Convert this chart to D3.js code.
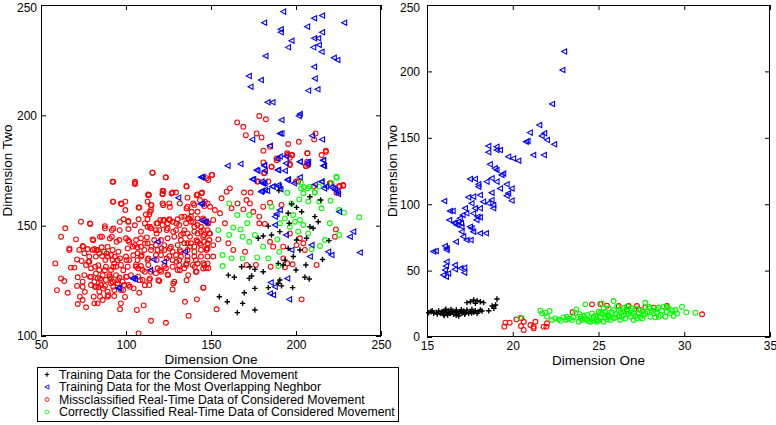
<!DOCTYPE html>
<html><head><meta charset="utf-8">
<script src="https://cdn.jsdelivr.net/npm/d3@7"></script>
<style>
body{margin:0;background:#fff;}
svg{display:block;font-family:"Liberation Sans",Arial,Helvetica,sans-serif;}
</style></head><body>
<svg id="chart" width="776" height="425"></svg>
<script>
// ---------- DATA ----------
const legendLabels = [
  "Training Data for the Considered Movement",
  "Training Data for the Most Overlapping Neghbor",
  "Missclassified Real-Time Data of Considered Movement",
  "Correctly Classified Real-Time Data of Considered Movement"
];
const xLabel = "Dimension One";
const yLabel = "Dimension Two";
const leftXTicks = [50,100,150,200,250];
const leftYTicks = [100,150,200,250];
const rightXTicks = [15,20,25,30,35];
const rightYTicks = [0,50,100,150,200,250];

const leftRed = [
[115.7,174.0],[123.5,171.9],[92.1,169.9],[105.3,169.9],[105.3,168.9],[135.5,168.0],[113.1,164.2],[121.5,165.9],[121.5,164.2],[127.4,165.0],[129.4,165.0],
[92.3,160.9],[97.0,160.1],[99.6,160.9],[112.7,160.9],[114.7,159.4],[121.5,160.1],[125.5,160.1],[136.2,162.7],[142.1,164.2],[144.7,165.0],
[99.6,157.1],[107.4,158.2],[114.7,157.1],[111.7,155.1],[113.7,155.1],[114.1,156.3],[98.6,152.9],[101.4,152.1],[107.4,152.9],[112.7,152.9],
[120.2,152.6],[122.5,152.6],[125.5,152.9],[130.4,152.9],[134.3,154.1],[138.2,154.1],[142.1,156.3],[146.0,158.9],[148.0,160.1],[140.2,159.4],[136.2,158.6],
[73.5,151.8],[79.0,150.8],[64.3,148.8],[61.8,145.0],[87.6,148.8],[91.7,148.0],[96.3,148.0],[101.4,148.5],[108.8,147.3],[112.7,149.5],[114.7,148.8],
[117.6,148.0],[119.6,148.0],[124.5,148.8],[127.4,151.8],[131.3,150.3],[135.3,151.1],[138.2,151.8],[142.1,150.3],[148.0,151.1],
[70.6,143.8],[74.5,140.8],[80.4,143.8],[85.9,145.0],[91.7,145.0],[96.1,143.5],[100.0,144.3],[101.9,142.7],[105.9,143.5],[108.8,144.3],[112.3,144.7],
[116.6,143.5],[120.6,143.5],[124.5,144.3],[128.4,145.0],[132.3,145.8],[136.2,146.5],[140.2,147.3],[144.1,147.3],[148.0,148.0],
[66.7,139.7],[66.7,139.0],[72.5,139.0],[77.4,139.4],[81.4,139.4],[85.7,140.2],[89.2,140.5],[95.5,138.2],[101.0,139.7],[103.9,140.5],[106.8,140.2],
[108.8,140.5],[112.7,142.0],[117.6,141.2],[122.5,141.2],[126.4,140.5],[130.4,141.2],[134.3,142.0],[138.2,142.0],[142.1,142.7],[146.0,142.7],[149.0,143.5],
[71.2,134.7],[73.9,134.0],[78.4,133.7],[82.3,136.0],[85.9,136.2],[87.8,134.4],[92.1,134.4],[96.5,135.2],[100.0,136.0],[101.9,134.4],[106.8,134.4],
[108.8,136.0],[112.7,134.4],[117.6,136.7],[120.6,136.7],[125.5,136.2],[129.4,136.7],[132.3,138.2],[136.2,139.0],[140.2,138.2],[144.1,139.0],[148.0,139.7],
[58.4,132.9],[67.6,131.0],[69.6,131.0],[75.5,127.6],[79.4,130.7],[81.9,131.4],[84.3,129.9],[88.2,131.4],[91.2,129.9],[94.1,131.4],[97.0,132.2],
[101.0,131.4],[105.9,132.2],[108.8,131.7],[113.1,132.2],[118.6,130.7],[122.5,131.7],[127.4,131.4],[131.3,132.2],[135.3,132.2],[139.2,132.2],[142.1,132.9],
[146.0,132.2],[148.0,132.9],[61.8,126.1],[63.7,124.9],[71.6,126.6],[74.5,124.6],[79.4,126.9],[83.3,126.1],[86.3,127.6],[90.2,127.6],[94.1,127.6],
[96.1,126.4],[100.0,126.9],[102.9,127.6],[107.2,126.9],[109.8,125.4],[113.7,125.4],[119.6,124.9],[124.5,127.9],[128.4,124.6],[134.3,130.7],[141.1,129.1],
[147.0,130.7],[59.4,120.8],[65.7,119.6],[71.2,122.7],[74.5,122.3],[79.4,123.1],[83.7,122.3],[87.6,122.7],[91.2,123.9],[97.0,120.8],[101.4,123.1],
[104.5,121.6],[107.8,119.6],[113.7,123.1],[127.4,121.1],[145.5,121.9],[72.9,117.8],[74.5,116.3],[81.0,117.8],[84.7,117.8],[93.1,118.1],[97.0,114.8],
[71.6,114.5],[76.5,113.0],[83.3,114.8],[96.5,112.1],[106.4,111.8],[110.4,113.9],[134.7,115.5],[141.7,116.6],[136.8,109.2],[114.7,106.9],[123.5,106.0],[107.4,101.2],
[83.3,139.0],[84.3,137.5],[87.2,138.2],[89.2,136.0],[91.2,136.7],[92.1,139.0],[93.1,132.9],[95.1,134.4],[82.3,128.4],[85.3,125.4],[88.2,125.4],
[91.2,126.1],[92.1,124.6],[85.3,123.1],[81.4,124.6],[82.3,122.3],[84.3,120.1],[89.2,120.1],[93.1,120.8],[95.1,123.9],[98.0,124.6],[99.0,123.1],
[89.2,117.8],[86.3,116.3],[81.4,114.8],[80.4,139.0],[78.4,136.0],[76.5,132.2],[75.5,137.5],[106.8,137.5],[110.8,139.0],[114.7,139.0],[118.6,139.0],
[122.5,139.0],[127.4,138.2],[132.3,136.0],[136.2,136.0],[140.2,136.0],[144.1,136.0],[148.0,136.0],[136.2,142.0],[140.2,140.5],[144.1,141.2],[148.0,142.0],
[132.3,143.5],[134.3,148.0],[140.2,149.5],[144.1,149.5],[146.0,152.6],[142.1,153.3],[137.2,153.3],[142.1,146.5],[146.0,145.8],[149.0,146.5],
[118.6,151.1],[121.5,150.3],[124.5,151.1],[129.4,148.0],[105.9,131.4],[109.8,129.9],[114.7,129.1],[117.6,128.4],[120.6,129.1],[123.5,130.7],
[130.4,129.9],[131.3,134.4],[127.4,134.4],[136.2,134.4],[141.1,134.4],
[92.5,160.8],[97.4,159.8],[107.8,158.2],[113.1,163.8],[121.5,164.6],[126.8,164.6],[115.0,159.3],[121.9,159.3],[125.8,158.5],[131.7,160.1],[135.6,157.8],
[138.6,156.3],[141.5,163.8],[143.5,161.6],[139.5,160.1],[78.8,151.0],[87.6,149.8],[92.5,148.7],[96.4,151.7],[101.3,151.7],[105.2,150.2],[111.1,151.0],
[114.1,149.5],[118.0,151.0],[121.9,152.5],[125.8,152.5],[129.7,151.0],[132.7,154.0],[136.6,153.3],[139.5,151.7],[145.4,153.3],[118.0,146.5],[123.9,148.0],
[127.8,147.2],[133.7,146.5],[137.6,145.0],[141.5,143.4],[145.4,145.0],[80.7,143.4],[84.7,145.0],[90.5,144.2],[94.5,142.7],[101.3,143.4],[105.2,141.2],
[111.1,141.9],[115.0,140.4],[120.9,139.7],[125.8,139.7],[131.7,138.9],[137.6,140.4],[143.5,141.9],[147.4,139.7],[74.9,140.4],[82.7,138.9],[88.6,137.4],
[93.5,135.9],[100.3,134.4],[104.3,136.6],[109.2,136.6],[113.1,135.1],[118.0,134.4],[123.9,135.1],[129.7,133.6],[135.6,132.9],[140.5,131.3],[145.4,130.6],
[77.8,133.6],[83.7,132.1],[87.6,129.8],[92.5,131.3],[98.4,129.8],[107.2,130.6],[111.1,129.1],[120.0,129.8],[124.8,127.6],[131.7,129.8],[136.6,127.6],
[141.5,129.1],[78.8,126.8],[84.7,126.1],[90.5,126.8],[95.4,125.3],[100.3,126.8],[108.2,125.3],[114.1,126.1],[119.0,125.3],[81.7,122.3],[86.6,121.5],
[92.5,122.3],[98.4,120.8],[102.3,122.3],[111.1,123.0],[75.8,120.0],[89.6,118.5],[99.4,117.7],[127.8,123.8],[135.6,125.3],
[165.4,196.8],[169.0,194.8],[170.5,191.0],[176.8,191.8],[179.7,190.0],[178.4,199.7],[182.3,198.2],[211.5,191.8],[210.7,189.1],[184.7,185.8],[180.8,184.0],
[201.7,188.0],[195.4,187.0],[217.6,184.0],[215.1,182.0],[206.8,182.8],[194.8,182.8],[197.8,182.0],[196.4,180.8],[188.6,179.7],[206.6,179.0],[207.2,177.5],
[196.4,178.0],[185.6,176.7],[180.8,178.7],[206.0,177.0],[181.3,173.7],[150.7,173.0],[148.4,170.7],[115.5,174.0],[123.3,171.9],[92.5,169.9],[105.3,169.2],
[135.7,167.7],[113.5,163.9],[122.0,165.7],[177.8,170.0],[220.5,169.2],[225.8,167.7],[227.8,168.1],[200.0,170.0],[210.2,167.7],
[194.9,182.0],[197.4,182.0],[206.6,182.8],[217.6,183.5],[188.6,180.5],[196.4,177.5],[205.8,177.0],[185.6,176.7],[181.3,174.0],[177.2,170.0],[183.7,170.0],
[201.3,170.0],[219.9,169.2],[225.4,168.0],[227.8,168.4],[223.9,164.9],[169.4,165.0],[173.3,165.0],[170.9,161.6],[172.9,160.1],[165.6,160.1],[162.1,157.9],
[169.0,157.4],[174.9,156.3],[178.4,154.1],[184.7,160.4],[180.7,158.6],[191.5,159.4],[178.4,151.1],[181.7,150.8],[196.4,146.5],[202.3,144.3],[200.3,141.2],
[204.3,142.0],[192.5,140.5],[205.2,139.0],[192.5,135.2],[194.9,132.9],[198.0,132.5],[193.5,131.1],[185.1,131.4],[171.0,132.2],[176.4,132.2],[212.1,132.2],
[223.5,148.3],[222.9,145.0],[203.3,116.6],[145.5,121.9],[153.3,112.1],[156.2,162.4],[159.2,165.4],[161.1,166.9],[150.4,173.0],[147.4,171.5],[144.5,164.7],
[146.4,160.9],[149.4,158.6],[152.3,157.1],[155.3,155.6],[151.3,152.6],[148.4,151.1],[145.5,148.0],[149.4,146.5],[154.3,143.8],[151.3,141.2],[147.4,139.0],
[151.3,136.0],[145.5,133.0],[148.4,130.7],[158.2,151.1],[160.2,142.0],[163.1,139.0],[170.0,138.2],[184.7,142.7],[186.6,140.5]
];
const leftGreen = [
[223.9,171.7],[202.9,169.6],[213.5,167.7],[203.0,166.9],[207.0,166.9],[211.0,165.0],
[223.9,172.2],[220.9,169.2],[204.7,167.4],[208.2,167.7],[211.1,165.0],[204.3,164.7],[194.9,164.9],[201.9,161.9],[207.2,160.9],[213.7,160.9],[220.3,161.3],
[215.0,157.9],[225.4,157.1],[228.2,155.9],[237.2,153.8],[219.9,151.1],[225.4,145.8],[217.0,143.5],[214.1,140.8],[209.2,139.3],[202.3,152.6],[199.4,151.8],
[204.3,150.3],[196.4,149.5],[193.5,153.3],[190.5,151.1],[198.4,154.8],[201.3,147.3],[207.2,146.5],[197.4,160.1],[185.6,158.6],[165.5,154.8],[171.3,151.1],
[172.5,154.8],[167.4,148.3],[168.6,145.0],[163.1,149.2],[160.7,145.8],[172.5,142.7],[175.8,145.8],[180.7,140.5],[177.2,135.6],[183.7,135.2],[189.6,131.7],
[190.1,138.2],[189.0,143.8],[156.8,136.7],[156.8,131.7],[162.1,135.2],[168.6,135.2],[160.7,160.1],[154.3,148.0]
];
const leftBlue = [
[192.5,247.0],[181.3,242.0],[210.7,244.0],[215.4,245.2],[228.4,242.0],[191.1,239.0],[191.1,237.6],[206.6,240.2],[215.4,237.6],[210.7,234.9],[213.1,234.9],
[197.4,233.8],[213.5,231.9],[210.2,230.8],[195.4,230.8],[215.1,228.8],[182.1,226.9],[222.3,226.1],[224.4,225.1],[210.7,222.0],[172.3,217.8],[179.4,216.0],
[211.1,216.7],[173.3,213.0],[212.7,211.8],[207.2,211.2],[183.3,205.9],[186.2,205.9],[202.3,200.6],[201.7,199.7],[191.5,197.9],[190.5,191.8],[191.5,191.8],
[209.5,190.8],[215.4,189.1],[174.3,189.1],[184.7,186.2],[194.1,181.5],[189.2,180.3],[181.3,177.2],[202.3,179.0],[206.6,178.0],[216.0,179.5],[216.0,177.2],
[159.8,177.2],[167.4,178.0],[189.2,175.2],[177.4,174.9],[181.7,174.9],[144.5,171.9],[174.3,171.0],[195.4,171.0],[202.3,171.9],[180.5,169.2],[181.5,169.2],
[186.2,167.7],[190.1,167.7],[215.1,169.9],[211.1,168.7],[216.6,166.9],[180.1,165.8],[183.1,165.8],[222.0,166.9],[224.5,165.4],
[144.1,171.9],[130.8,162.7],[144.7,160.1],[147.0,151.8],[118.6,142.7],[116.2,134.7],[122.5,133.7],[114.3,129.9],[103.9,126.1],[105.3,125.7],[95.5,121.6],
[134.7,138.2],[95.9,121.9],[104.3,126.1],[143.9,159.8],[146.4,151.7],
[190.5,181.3],[194.1,178.3],[202.3,179.0],[207.2,179.0],[216.0,179.8],[216.6,177.0],[176.8,175.2],[181.3,177.5],[189.6,175.2],[193.5,174.9],[174.9,171.0],
[179.8,170.0],[180.7,169.2],[186.2,167.7],[189.6,168.4],[194.9,170.7],[198.8,169.2],[181.7,166.2],[179.4,165.4],[190.9,166.5],[215.0,170.0],[220.9,167.4],
[222.9,166.2],[224.8,164.4],[217.6,167.7],[145.1,172.2],[144.5,152.3],[190.5,157.1],[187.6,154.1],[188.6,155.3],[225.4,156.3],[187.6,150.3],[233.7,147.3],
[231.7,145.0],[237.6,137.8],[220.9,136.7],[219.0,138.2],[209.2,141.2],[194.1,145.8],[197.4,139.0],[208.2,136.0],[194.9,126.1],[185.2,124.2],[184.7,119.3],
[186.6,118.6],[196.0,116.6],[187.6,122.3]
];
const leftBlack = [
[189.9,165.9],[208.2,163.1],[195.4,155.6],[200.3,158.3],[203.3,156.3],[214.5,161.6],[211.1,154.1],[213.1,151.8],[208.2,149.5],[210.1,148.8],[183.7,149.8],
[180.7,145.3],[177.8,144.3],[185.6,145.8],[190.5,147.3],[195.4,139.7],[198.4,136.0],[202.3,139.0],[200.3,143.5],[206.2,144.3],[219.4,143.2],[215.6,134.7],
[205.8,132.2],[193.5,134.4],[192.5,132.2],[189.6,132.9],[200.0,129.9],[168.0,131.4],[172.9,131.4],[175.8,130.2],[180.7,129.1],[172.5,126.1],[173.9,127.2],
[160.2,127.6],[163.7,126.6],[190.5,125.4],[189.6,123.9],[191.5,122.7],[175.8,121.6],[183.7,121.9],[198.0,121.9],[205.2,126.6],[207.8,125.8],[169.6,119.6],
[154.9,117.8],[159.6,115.5],[168.6,114.8],[175.8,111.8],[165.5,110.6],[197.4,159.8],[196.0,151.1]
];

const rightBlue = [
[23.0,214.9],[22.9,201.1],[22.3,175.5],[21.55,159.6],[21.0,153.9],[21.84,153.4],[21.69,151.4],[22.0,148.3],[22.42,145.1],[20.77,147.1],[20.87,147.6],
[21.82,137.0],[21.2,137.0],[18.58,143.8],[18.58,139.1],[19.06,140.8],[19.26,140.8],[19.06,143.3],[19.74,135.8],[20.03,134.5],[20.33,132.8],[18.67,130.0],
[18.96,127.0],[19.06,125.8],[19.35,122.0],[19.45,123.2],[17.51,119.0],[17.8,119.0],[18.77,119.5],[18.48,117.0],[19.06,117.0],[19.65,115.0],[19.94,111.9],
[18.0,115.0],[18.0,113.2],[19.26,111.9],[18.77,108.7],[19.74,108.2],[18.09,106.9],[17.41,105.2],[17.7,105.7],[19.65,106.4],[18.77,103.2],[19.94,102.7],
[18.28,101.9],[18.58,100.7],[18.87,99.4],[18.87,96.9],[16.01,102.4],[17.6,100.7],[17.8,96.9],[18.09,96.9],[17.7,93.1],[17.95,90.6],[17.89,88.1],[18.09,90.1],
[17.22,96.9],[17.3,93.1],[17.08,91.9],[16.92,89.4],[16.83,86.8],[16.63,85.6],[17.02,83.1],[17.51,83.1],[17.6,81.8],[17.7,79.3],[17.02,79.3],[16.99,85.6],
[16.34,94.9],[16.5,94.9],[16.3,88.1],[16.59,86.1],[18.09,78.1],[18.44,78.1],[16.73,84.3],[17.12,75.6],[17.31,73.0],[17.55,73.0],[16.69,71.8],[16.15,65.5],
[16.05,68.5],[16.15,66.8],[15.37,64.3],[15.52,64.8],[16.15,56.7],[16.11,53.5],[16.05,50.5],[15.95,46.7],[16.11,45.4],[16.24,47.9],[16.63,54.2],[16.63,51.0],
[16.96,51.7],[17.18,52.2],[17.18,48.4]
];
const rightBlack = [
[15.1,18.3],[15.23,19.1],[15.39,17.8],[15.54,18.6],[15.68,19.6],[15.78,17.8],[15.87,19.1],[15.97,17.1],[16.07,20.3],[16.13,18.3],[16.2,16.6],[16.26,19.6],
[16.36,17.8],[16.4,20.8],[16.46,19.1],[16.55,17.1],[16.65,18.6],[16.71,20.3],[16.79,17.8],[16.85,15.8],[16.94,19.1],[17.04,17.8],[17.14,19.6],[17.24,18.3],
[17.33,20.3],[17.43,17.8],[17.53,19.1],[17.62,20.8],[17.72,18.6],[17.82,19.8],[17.92,17.8],[18.01,19.1],[18.11,20.3],[18.21,19.6],[17.33,25.9],[17.53,26.6],
[17.72,27.9],[17.92,27.3],[18.11,26.6],[18.3,25.9],[17.82,25.3],[19.08,28.6],[18.8,23.3],[19.0,24.1],[18.9,21.6],[18.6,19.8],
[15.95,18.9],[16.3,18.0],[16.5,19.5],[16.9,18.4],[17.2,17.0],[17.6,18.0],[16.0,16.2],[15.6,17.2],[16.7,16.4],[17.0,20.6],[15.3,19.8],[16.1,21.0]
];
const rightGreen = [
[21.61,19.8],[21.71,17.8],[21.9,18.3],[22.15,19.6],[22.48,14.0],[22.29,12.8],[22.68,13.3],[22.97,14.8],[23.16,15.3],[23.45,12.8],[23.65,18.3],[23.71,20.8],
[23.84,11.5],[24.04,12.8],[24.23,24.6],[24.33,13.3],[24.52,11.5],[24.72,12.3],[24.91,13.3],[25.11,14.8],[25.3,11.5],[25.5,13.3],[25.59,16.6],[25.79,18.3],
[25.88,27.1],[25.98,14.8],[26.18,20.3],[26.27,12.8],[26.47,16.6],[26.66,19.1],[26.86,15.3],[27.05,17.8],[27.24,14.0],[27.44,20.3],[27.63,16.6],[27.73,25.8],
[27.83,19.1],[28.02,15.3],[28.22,17.8],[28.41,20.8],[28.61,16.6],[28.8,22.8],[28.99,19.1],[29.19,17.8],[29.38,15.8],[29.48,20.3],[29.58,17.8],[29.87,22.8],
[30.12,18.6],[30.65,18.3],[24.33,16.6],[24.62,17.8],[24.82,15.8],[25.01,19.1],[25.2,17.3],[25.4,19.1],[25.59,21.6],[25.69,12.8],[25.88,14.1],[26.08,22.8],
[26.37,15.3],[26.56,14.0],[26.66,22.8],[26.95,21.6],[27.15,15.8],[27.34,17.8],[27.54,14.0],[27.93,22.8],[28.12,19.8],[28.51,15.3],[28.7,19.8],[28.9,15.3],
[29.09,21.6],[29.29,19.8],[23.55,14.8],[23.94,15.3],[24.14,15.8],[24.72,15.3],[24.91,11.5],[25.11,18.3],[25.3,21.6],[25.5,16.6],[26.18,15.8],[26.47,19.8],
[26.76,17.3],[27.05,12.8],[27.44,15.3],[27.73,17.8],[28.31,14.8],[28.41,18.3],[25.2,25.3],[20.44,14.6],[24.0,14.0],[24.4,12.0],[23.3,13.8],[22.8,12.2],
[23.1,13.0],[24.7,14.2],[25.0,12.4],[25.6,15.2],[26.0,17.2],[26.3,18.4],[26.9,19.6],[27.2,21.2],[27.6,19.4],[28.0,21.6],[28.5,22.2],[29.0,22.4],[26.5,21.8],
[25.9,20.4],[25.4,14.6],[24.2,13.8],[23.9,17.2],[22.0,15.4]
];
const rightRed = [
[19.57,10.8],[19.82,10.8],[19.51,7.8],[20.21,13.3],[20.5,14.1],[20.64,11.5],[20.48,8.3],[20.64,5.3],[21.03,9.0],[21.22,7.8],[21.32,11.5],[21.22,6.5],
[21.8,7.8],[21.96,7.8],[22.0,10.3],[23.49,18.6],[24.62,24.6],[25.11,24.8],[25.5,23.6],[26.18,23.3],[26.76,23.3],[27.24,23.3],[27.73,22.3],[28.22,22.1],
[28.99,23.3],[26.66,20.8],[27.34,20.8],[31.04,17.1]
];

// ---------- DRAW ----------
const svg = d3.select("#chart");
const FONT = "Liberation Sans, Arial, Helvetica, sans-serif";
const colors = {black:"#000000", blue:"#0000ff", red:"#ff0000", green:"#00ff00"};

function marker(g, type, color){
  if(type==="circle"){
    g.append("circle").attr("r",2.4).attr("fill","none").attr("stroke",color).attr("stroke-width",1.1);
  } else if(type==="tri"){
    g.append("path").attr("d","M-2.6,0L2.4,-2.6L2.4,2.6Z").attr("fill","none").attr("stroke",color).attr("stroke-width",1.1);
  } else {
    g.append("path").attr("d","M-2.7,0H2.7M0,-2.7V2.7").attr("stroke",color).attr("stroke-width",1.4);
  }
}

function panel(cfg){
  const x = d3.scaleLinear().domain(cfg.xd).range([cfg.x0,cfg.x1]);
  const y = d3.scaleLinear().domain(cfg.yd).range([cfg.y0,cfg.y1]);
  const g = svg.append("g");
  g.append("rect").attr("x",cfg.x0).attr("y",cfg.y1).attr("width",cfg.x1-cfg.x0).attr("height",cfg.y0-cfg.y1)
    .attr("fill","#fff");

  const layers = [
    [cfg.red,"circle",colors.red],
    [cfg.green,"circle",colors.green],
    [cfg.blue,"tri",colors.blue],
    [cfg.black,"plus",colors.black]
  ];
  layers.forEach(([data,type,color])=>{
    const sel = g.append("g").selectAll("g").data(data).join("g")
      .attr("transform",d=>`translate(${x(d[0])},${y(d[1])})`);
    sel.each(function(){ marker(d3.select(this),type,color); });
  });

  const ax = (axis, tr) => {
    const a = g.append("g").attr("transform",tr).call(axis);
    a.select(".domain").remove();
    a.selectAll("line").attr("stroke","#000");
    a.selectAll("text").attr("font-family",FONT).attr("font-size",12).attr("fill","#000");
    return a;
  };
  ax(d3.axisBottom(x).tickValues(cfg.xt).tickSize(-5).tickPadding(4).tickFormat(d3.format("d")), `translate(0,${cfg.y0})`);
  ax(d3.axisTop(x).tickValues(cfg.xt).tickSize(-5).tickFormat(""), `translate(0,${cfg.y1})`);
  const yl = ax(d3.axisLeft(y).tickValues(cfg.yt).tickSize(-5).tickPadding(cfg.ypad).tickFormat(d3.format("d")), `translate(${cfg.x0},0)`);
  yl.selectAll(".tick text").filter(d=>d===cfg.yd[1]).attr("dy","0.5em");
  ax(d3.axisRight(y).tickValues(cfg.yt).tickSize(-5).tickFormat(""), `translate(${cfg.x1},0)`);

  g.append("rect").attr("x",cfg.x0+0.5).attr("y",cfg.y1+0.5).attr("width",cfg.x1-cfg.x0-1).attr("height",cfg.y0-cfg.y1-1)
    .attr("fill","none").attr("stroke","#000").attr("stroke-width",1);

  g.append("text").attr("x",(cfg.x0+cfg.x1)/2).attr("y",cfg.y0+28).attr("text-anchor","middle")
    .attr("font-family",FONT).attr("font-size",13.5).text(xLabel);
  g.append("text").attr("transform",`translate(${cfg.ylx},${(cfg.y0+cfg.y1)/2}) rotate(-90)`).attr("text-anchor","middle")
    .attr("font-family",FONT).attr("font-size",13.5).text(yLabel);
}

panel({xd:[50,250], yd:[100,250], x0:41, x1:381, y0:336, y1:5, xt:leftXTicks, yt:leftYTicks, ypad:4, ylx:12,
  red:leftRed, green:leftGreen, blue:leftBlue, black:leftBlack});
panel({xd:[15,35], yd:[0,250], x0:427, x1:770, y0:337, y1:5, xt:rightXTicks, yt:rightYTicks, ypad:7, ylx:397,
  red:rightRed, green:rightGreen, blue:rightBlue, black:rightBlack});

// legend
const lg = svg.append("g");
lg.append("rect").attr("x",37.5).attr("y",367.5).attr("width",361).attr("height",54).attr("fill","#fff").attr("stroke","#000");
const types = ["plus","tri","circle","circle"];
const lcols = [colors.black, colors.blue, colors.red, colors.green];
legendLabels.forEach((t,i)=>{
  const yy = 374.5 + i*12.5;
  const m = lg.append("g");
  marker(m, types[i], lcols[i]);
  m.attr("transform",`translate(47,${yy}) scale(0.8)`);
  lg.append("text").attr("x",59).attr("y",yy+4.3).attr("font-family",FONT).attr("font-size",12.3).text(t);
});
</script>
</body></html>
